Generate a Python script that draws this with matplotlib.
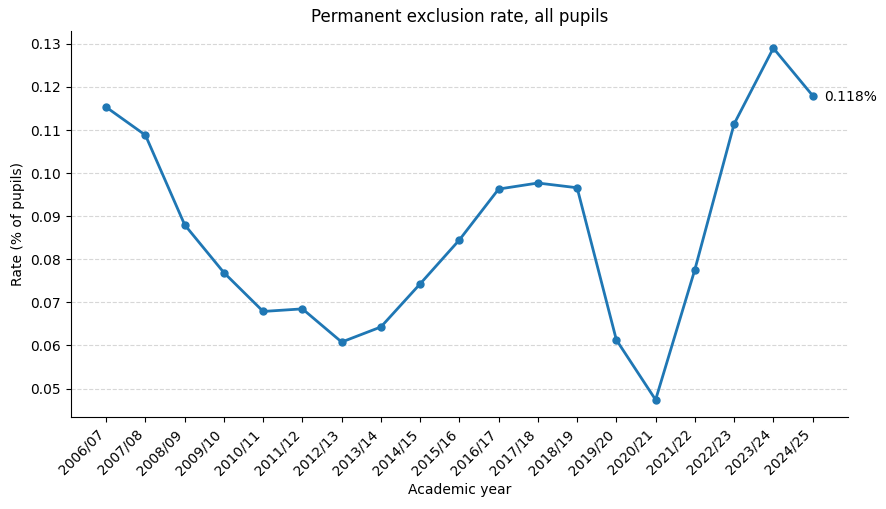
import matplotlib
matplotlib.use("Agg")
import matplotlib.pyplot as plt

years = ["2006/07", "2007/08", "2008/09", "2009/10", "2010/11", "2011/12",
         "2012/13", "2013/14", "2014/15", "2015/16", "2016/17", "2017/18",
         "2018/19", "2019/20", "2020/21", "2021/22", "2022/23", "2023/24",
         "2024/25"]
rate = [0.1153, 0.1088, 0.0880, 0.0769, 0.0679, 0.0685, 0.0608, 0.0643,
        0.0743, 0.0845, 0.0963, 0.0977, 0.0966, 0.0613, 0.0474, 0.0776,
        0.1114, 0.1290, 0.1180]

fig, ax = plt.subplots(figsize=(8.86, 5.09), dpi=100)
x = range(len(years))
ax.plot(x, rate, marker="o", markersize=5, linewidth=2, color="#1f77b4")
ax.annotate(f"{rate[-1]:.3f}%", (x[-1], rate[-1]), xytext=(8, -4),
            textcoords="offset points", fontsize=10)

ax.set_xticks(list(x))
ax.set_xticklabels(years, rotation=45, ha="right")
ax.set_title("Permanent exclusion rate, all pupils")
ax.set_xlabel("Academic year")
ax.set_ylabel("Rate (% of pupils)")
ax.grid(axis="y", linestyle="--", alpha=0.5)
ax.spines["top"].set_visible(False)
ax.spines["right"].set_visible(False)

fig.subplots_adjust(left=0.08, right=0.957, top=0.94, bottom=0.18)
fig.savefig("out.png")
